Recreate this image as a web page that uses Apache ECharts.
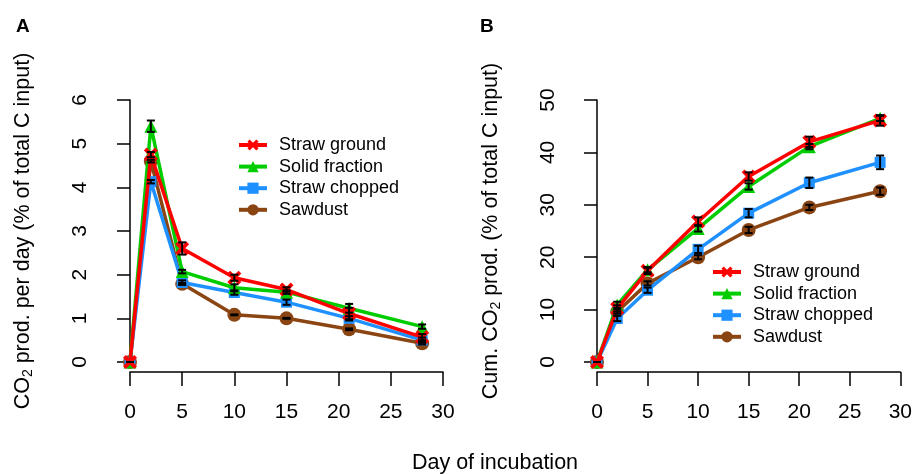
<!DOCTYPE html>
<html>
<head>
<meta charset="utf-8">
<script src="https://cdn.jsdelivr.net/npm/echarts@6/dist/echarts.min.js"></script>
<style>
html,body{margin:0;padding:0;background:#fff;}
#chart{width:915px;height:474px;}
</style>
</head>
<body>
<div id="chart"></div>
<script>
// ---- data ----
const days = [0, 2, 5, 10, 15, 21, 28];
const seriesNames = ['Straw ground', 'Solid fraction', 'Straw chopped', 'Sawdust'];
const xTicks = [0, 5, 10, 15, 20, 25, 30];

// Panel A: CO2 production per day (% of total C input)
const rateStrawGround   = [0, 4.75, 2.60, 1.93, 1.66, 1.11, 0.57];
const rateSolidFraction = [0, 5.40, 2.07, 1.70, 1.60, 1.23, 0.81];
const rateStrawChopped  = [0, 4.13, 1.82, 1.59, 1.37, 1.00, 0.50];
const rateSawdust       = [0, 4.60, 1.79, 1.08, 1.00, 0.75, 0.43];
const rateErrStrawGround   = [0, 0.06, 0.14, 0.07, 0.05, 0.13, 0.07];
const rateErrSolidFraction = [0, 0.13, 0.04, 0.08, 0.04, 0.10, 0.05];
const rateErrStrawChopped  = [0, 0.04, 0.05, 0.05, 0.06, 0.05, 0.06];
const rateErrSawdust       = [0, 0.03, 0.02, 0.01, 0.01, 0.02, 0.03];

// Panel B: cumulative CO2 production (% of total C input)
const cumStrawGround   = [0, 10.2, 17.4, 26.8, 35.4, 42.0, 46.1];
const cumSolidFraction = [0, 10.9, 17.6, 25.5, 33.5, 41.1, 46.5];
const cumStrawChopped  = [0, 8.3, 13.7, 21.5, 28.4, 34.2, 38.1];
const cumSawdust       = [0, 9.6, 15.0, 20.0, 25.2, 29.5, 32.6];
const cumErrStrawGround   = [0, 0.6, 0.6, 0.8, 0.8, 1.0, 1.0];
const cumErrSolidFraction = [0, 0.6, 0.5, 0.6, 0.6, 0.5, 0.5];
const cumErrStrawChopped  = [0, 0.5, 0.5, 0.7, 0.8, 1.0, 1.3];
const cumErrSawdust       = [0, 0.4, 0.4, 0.4, 0.6, 0.5, 0.7];

// ---- styling ----
const colors = ['#FF0000', '#00CD00', '#1E90FF', '#8B4513'];
const crossPath = 'path://M2,0 L5,3 L8,0 L10,2 L7,5 L10,8 L8,10 L5,7 L2,10 L0,8 L3,5 L0,2 Z';
const symbols = [crossPath, 'triangle', 'rect', 'circle'];
const symbolSizes = [14, 13, 11, 14];
const FONT = 'Liberation Sans, Arial, Helvetica, sans-serif';

const rateData = [rateStrawGround, rateSolidFraction, rateStrawChopped, rateSawdust];
const rateErr = [rateErrStrawGround, rateErrSolidFraction, rateErrStrawChopped, rateErrSawdust];
const cumData = [cumStrawGround, cumSolidFraction, cumStrawChopped, cumSawdust];
const cumErr = [cumErrStrawGround, cumErrSolidFraction, cumErrStrawChopped, cumErrSawdust];

function xAxisCfg(gridIndex) {
  return {
    type: 'value', gridIndex, min: 0, max: 30, interval: 5, offset: 10,
    axisLine: { show: true, onZero: false, lineStyle: { color: '#000', width: 1.5 } },
    axisTick: { show: true, length: 14, lineStyle: { color: '#000', width: 1.5 } },
    axisLabel: { color: '#000', fontSize: 21, fontFamily: FONT, margin: 30, showMinLabel: true, showMaxLabel: true },
    splitLine: { show: false }
  };
}
function yAxisCfg(gridIndex, max, interval, nameText, gap, offset) {
  return {
    type: 'value', gridIndex, min: 0, max, interval, offset,
    name: nameText, nameLocation: 'middle', nameGap: gap, nameRotate: 90,
    nameTextStyle: {
      color: '#000', fontFamily: FONT, fontSize: 21.5,
      rich: {
        a: { fontSize: 21.5, fontFamily: FONT, color: '#000' },
        s: { fontSize: 14, fontFamily: FONT, color: '#000', verticalAlign: 'bottom', padding: [9, 0, 0, 0] }
      }
    },
    axisLine: { show: true, lineStyle: { color: '#000', width: 1.5 } },
    axisTick: { show: true, length: 13, lineStyle: { color: '#000', width: 1.5 } },
    axisLabel: { color: '#000', fontSize: 21, fontFamily: FONT, rotate: 90, margin: 26 },
    splitLine: { show: false }
  };
}

const series = [];
const order = [3, 2, 1, 0];
function addPanel(dataSets, errSets, axisIdx) {
  order.forEach(i => {
    series.push({
      type: 'line', name: seriesNames[i], xAxisIndex: axisIdx, yAxisIndex: axisIdx,
      data: days.map((d, k) => [d, dataSets[i][k]]),
      symbol: symbols[i], symbolSize: symbolSizes[i], showSymbol: true, clip: false,
      lineStyle: { color: colors[i], width: 3.5 },
      itemStyle: { color: colors[i] },
      z: 2 + (3 - i), animation: false
    });
  });
  order.forEach(i => {
    series.push({
      type: 'custom', name: 'err' + axisIdx + '_' + i, xAxisIndex: axisIdx, yAxisIndex: axisIdx,
      data: days.map((d, k) => [d, dataSets[i][k] - errSets[i][k], dataSets[i][k] + errSets[i][k]]),
      encode: { x: 0, y: [1, 2] }, clip: false, z: 10, animation: false,
      renderItem: function (params, api) {
        const x = api.value(0);
        const lo = api.coord([x, api.value(1)]);
        const hi = api.coord([x, api.value(2)]);
        const cap = 4;
        const st = { stroke: '#000', lineWidth: 2 };
        return {
          type: 'group',
          children: [
            { type: 'line', shape: { x1: lo[0], y1: lo[1], x2: hi[0], y2: hi[1] }, style: st },
            { type: 'line', shape: { x1: lo[0] - cap, y1: lo[1], x2: lo[0] + cap, y2: lo[1] }, style: st },
            { type: 'line', shape: { x1: hi[0] - cap, y1: hi[1], x2: hi[0] + cap, y2: hi[1] }, style: st }
          ]
        };
      }
    });
  });
}
addPanel(rateData, rateErr, 0);
addPanel(cumData, cumErr, 1);

const legendCommon = {
  orient: 'vertical', itemWidth: 28, itemHeight: 14, itemGap: 3.6,
  data: seriesNames,
  lineStyle: { width: 4 },
  textStyle: { color: '#000', fontSize: 18, fontFamily: FONT, padding: [0, 0, 0, 7] },
  selectedMode: false
};

const chart = echarts.init(document.getElementById('chart'), null, { renderer: 'canvas' });
chart.setOption({
  animation: false,
  backgroundColor: '#fff',
  title: [
    { text: 'A', left: 11, top: 12, textStyle: { fontSize: 19, fontWeight: 'bold', fontFamily: FONT, color: '#000' } },
    { text: 'B', left: 475, top: 12, textStyle: { fontSize: 19, fontWeight: 'bold', fontFamily: FONT, color: '#000' } },
    { text: 'Day of incubation', left: 490, top: 447, textAlign: 'center', textStyle: { fontSize: 21.5, fontWeight: 'normal', fontFamily: FONT, color: '#000' } }
  ],
  grid: [
    { left: 130, top: 100, width: 313, height: 262 },
    { left: 597, top: 100, width: 305, height: 262 }
  ],
  xAxis: [xAxisCfg(0), xAxisCfg(1)],
  yAxis: [
    yAxisCfg(0, 6, 1, '{a|CO}{s|2}{a| prod. per day (% of total C input)}', 82, 13),
    yAxisCfg(1, 50, 10, '{a|Cum. CO}{s|2}{a| prod. (% of total C input)}', 82, 12)
  ],
  legend: [
    Object.assign({ left: 232, top: 131 }, legendCommon),
    Object.assign({ left: 706, top: 258 }, legendCommon)
  ],
  series
});
</script>
</body>
</html>
